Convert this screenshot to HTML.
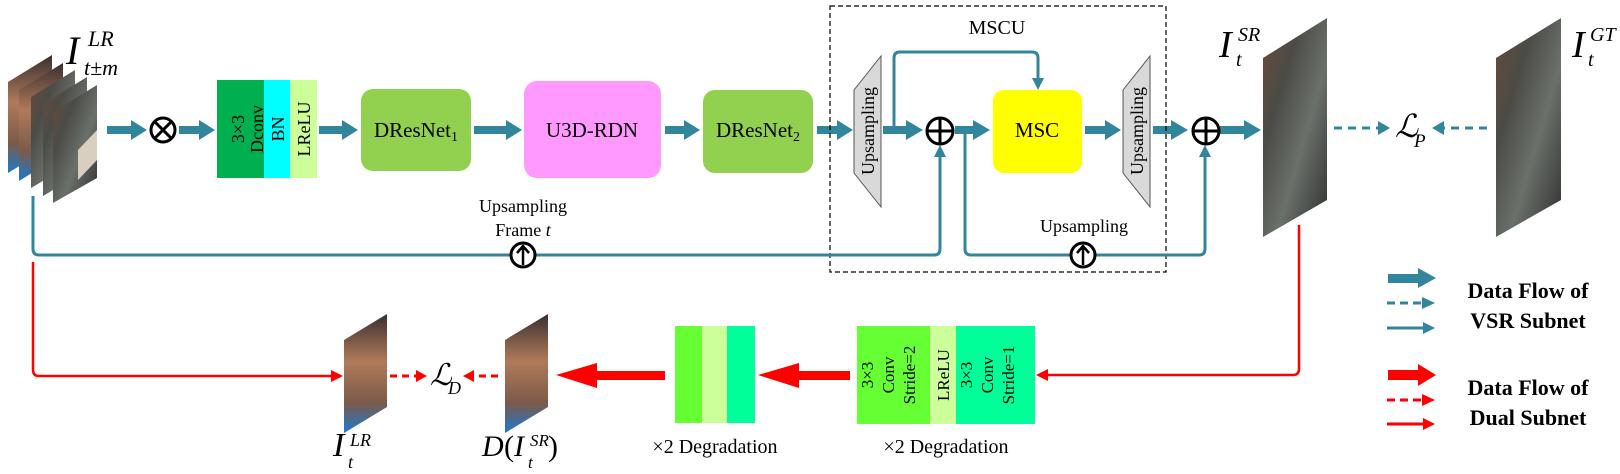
<!DOCTYPE html>
<html><head><meta charset="utf-8"><style>
html,body{margin:0;padding:0;background:#fff}
svg{display:block}
text{font-family:"Liberation Serif",serif}
</style></head><body>
<svg width="1620" height="474" viewBox="0 0 1620 474" xmlns="http://www.w3.org/2000/svg">
<defs>
<linearGradient id="img" x1="0" y1="0" x2="1" y2="1">
<stop offset="0" stop-color="#6b4a3a"/><stop offset="0.3" stop-color="#4b4b46"/><stop offset="0.6" stop-color="#6a706a"/><stop offset="1" stop-color="#2e2e2e"/>
</linearGradient>
<linearGradient id="face" x1="0" y1="0" x2="0" y2="1">
<stop offset="0" stop-color="#3a3030"/><stop offset="0.4" stop-color="#b07a5a"/><stop offset="0.75" stop-color="#7a5a4a"/><stop offset="1" stop-color="#1a7ad0"/>
</linearGradient>
</defs>

<!-- LR stack -->
<g>
<polygon points="8,82 52,55 52,146 8,173" fill="url(#face)"/>
<polygon points="19,90 63,63 63,154 19,181" fill="url(#face)"/>
<polygon points="31,97 75,70 75,162 31,188" fill="url(#img)"/>
<polygon points="43,104 87,77 87,170 43,196" fill="url(#img)"/>
<polygon points="53,112 97,85 97,178 53,203" fill="url(#img)"/>
<polygon points="78,150 97,130 97,160 78,180" fill="#d8cfc0"/>
</g>
<text x="66" y="64" font-size="40" font-style="italic">I</text>
<text x="88" y="46" font-size="22" font-style="italic">LR</text>
<text x="84" y="75" font-size="22" font-style="italic">t±m</text>

<g fill="#31859c">
<rect x="107" y="126" width="26" height="8"/><polygon points="131,120 147,130 131,140"/>
<rect x="179" y="126" width="22" height="8"/><polygon points="199,120 215,130 199,140"/>
<rect x="319" y="126" width="25" height="8"/><polygon points="342,120 358,130 342,140"/>
<rect x="474" y="126" width="34" height="8"/><polygon points="506,120 522,130 506,140"/>
<rect x="665" y="126" width="21" height="8"/><polygon points="684,120 700,130 684,140"/>
<rect x="817" y="126" width="22" height="8"/><polygon points="837,120 853,130 837,140"/>
<rect x="883" y="126" width="25" height="8"/><polygon points="906,120 923,130 906,140"/>
<rect x="955" y="126" width="20" height="8"/><polygon points="973,120 990,130 973,140"/>
<rect x="1085" y="126" width="22" height="8"/><polygon points="1105,120 1121,130 1105,140"/>
<rect x="1153" y="126" width="20" height="8"/><polygon points="1171,120 1188,130 1171,140"/>
<rect x="1220" y="126" width="26" height="8"/><polygon points="1244,120 1261,130 1244,140"/>
</g>

<circle cx="163" cy="130" r="12" fill="#fff" stroke="#000" stroke-width="3"/>
<path d="M155,122 L171,138 M171,122 L155,138" stroke="#000" stroke-width="3"/>

<rect x="217" y="80" width="47" height="98" fill="#00b050"/>
<rect x="264" y="80" width="26" height="98" fill="#00ffff"/>
<rect x="290" y="80" width="27" height="98" fill="#ccff99"/>
<text transform="translate(244,129) rotate(-90)" font-size="18" text-anchor="middle">3×3</text>
<text transform="translate(263,129) rotate(-90)" font-size="18" text-anchor="middle">Dconv</text>
<text transform="translate(284,129) rotate(-90)" font-size="18" text-anchor="middle">BN</text>
<text transform="translate(310,129) rotate(-90)" font-size="18" text-anchor="middle">LReLU</text>

<rect x="361" y="89" width="110" height="82" rx="12" fill="#92d050"/>
<text x="416" y="137" font-size="21" text-anchor="middle">DResNet<tspan font-size="14" dy="4">1</tspan></text>
<rect x="524" y="81" width="137" height="97" rx="13" fill="#ff99ff"/>
<text x="592" y="137" font-size="21" text-anchor="middle">U3D-RDN</text>
<rect x="703" y="90" width="110" height="83" rx="12" fill="#92d050"/>
<text x="758" y="137" font-size="21" text-anchor="middle">DResNet<tspan font-size="14" dy="4">2</tspan></text>

<rect x="830" y="6" width="336" height="266" fill="none" stroke="#000" stroke-width="1.2" stroke-dasharray="5,3"/>
<text x="997" y="34" font-size="20" text-anchor="middle">MSCU</text>

<polygon points="854,90 881,56 881,207 854,173" fill="#d9d9d9" stroke="#555" stroke-width="1"/>
<text transform="translate(874,131) rotate(-90)" font-size="18" text-anchor="middle">Upsampling</text>
<polygon points="1123,90 1150,56 1150,207 1123,173" fill="#d9d9d9" stroke="#555" stroke-width="1"/>
<text transform="translate(1143,131) rotate(-90)" font-size="18" text-anchor="middle">Upsampling</text>

<rect x="993" y="90" width="89" height="83" rx="11" fill="#ffff00"/>
<text x="1037" y="137" font-size="21" text-anchor="middle">MSC</text>

<g fill="none" stroke="#31859c" stroke-width="3">
<path d="M894,130 V58 Q894,52 900,52 H1032 Q1038,52 1038,58 V80"/>
<path d="M965,130 V249 Q965,255 971,255 H1199 Q1205,255 1205,249 V156"/>
<path d="M33,196 V249 Q33,255 39,255 H934 Q940,255 940,249 V156"/>
</g>
<g fill="#31859c">
<polygon points="1032,78 1044,78 1038,90"/>
<polygon points="1199,157 1211,157 1205,145"/>
<polygon points="934,157 946,157 940,145"/>
</g>

<g fill="#fff" stroke="#000" stroke-width="3">
<circle cx="940" cy="131" r="13"/><circle cx="1206" cy="131" r="13"/>
</g>
<path d="M927,131 H953 M940,118 V144 M1193,131 H1219 M1206,118 V144" stroke="#000" stroke-width="3"/>

<g>
<circle cx="523" cy="255" r="12" fill="#fff" stroke="#000" stroke-width="3"/>
<path d="M523,265 V247 M517,253 L523,246 L529,253" stroke="#000" stroke-width="2.5" fill="none"/>
<circle cx="1083" cy="255" r="12" fill="#fff" stroke="#000" stroke-width="3"/>
<path d="M1083,265 V247 M1077,253 L1083,246 L1089,253" stroke="#000" stroke-width="2.5" fill="none"/>
</g>
<text x="523" y="212" font-size="18" text-anchor="middle">Upsampling</text>
<text x="523" y="236" font-size="18" text-anchor="middle">Frame <tspan font-style="italic">t</tspan></text>
<text x="1084" y="232" font-size="18" text-anchor="middle">Upsampling</text>

<polygon points="1263,58 1327,18 1327,200 1263,237" fill="url(#img)"/>
<polygon points="1496,58 1561,18 1561,200 1496,237" fill="url(#img)"/>
<text x="1219" y="57" font-size="38" font-style="italic">I</text>
<text x="1238" y="41" font-size="20" font-style="italic">SR</text>
<text x="1236" y="66" font-size="20" font-style="italic">t</text>
<text x="1572" y="57" font-size="38" font-style="italic">I</text>
<text x="1590" y="41" font-size="20" font-style="italic">GT</text>
<text x="1588" y="66" font-size="20" font-style="italic">t</text>

<path d="M1334,128 H1380" stroke="#31859c" stroke-width="3" stroke-dasharray="8,6"/>
<polygon points="1378,121 1390,128 1378,135" fill="#31859c"/>
<path d="M1487,128 H1442" stroke="#31859c" stroke-width="3" stroke-dasharray="8,6"/>
<polygon points="1444,121 1432,128 1444,135" fill="#31859c"/>
<text x="1395" y="137" font-size="32" font-style="italic">ℒ</text>
<text x="1414" y="147" font-size="19" font-style="italic">P</text>

<g fill="#31859c">
<rect x="1388" y="274" width="32" height="9"/><polygon points="1418,268 1436,278 1418,288"/>
</g>
<path d="M1387,303 H1422" stroke="#31859c" stroke-width="3" stroke-dasharray="8,5"/>
<polygon points="1422,297 1435,303 1422,309" fill="#31859c"/>
<path d="M1387,328 H1423" stroke="#31859c" stroke-width="3"/>
<polygon points="1423,322 1435,328 1423,334" fill="#31859c"/>
<text x="1528" y="298" font-size="22" font-weight="bold" text-anchor="middle">Data Flow of</text>
<text x="1528" y="328" font-size="22" font-weight="bold" text-anchor="middle">VSR Subnet</text>
<g fill="#ff0000">
<rect x="1388" y="370" width="32" height="10"/><polygon points="1418,364 1436,375 1418,386"/>
</g>
<path d="M1387,400 H1422" stroke="#ff0000" stroke-width="3" stroke-dasharray="8,5"/>
<polygon points="1422,394 1435,400 1422,406" fill="#ff0000"/>
<path d="M1387,424 H1423" stroke="#ff0000" stroke-width="3"/>
<polygon points="1423,418 1435,424 1423,430" fill="#ff0000"/>
<text x="1528" y="395" font-size="22" font-weight="bold" text-anchor="middle">Data Flow of</text>
<text x="1528" y="425" font-size="22" font-weight="bold" text-anchor="middle">Dual Subnet</text>

<path d="M1299,225 V369 Q1299,375 1293,375 H1046" fill="none" stroke="#ff0000" stroke-width="2.5"/>
<polygon points="1048,369 1036,375 1048,381" fill="#ff0000"/>
<path d="M33,262 V370 Q33,376 39,376 H332" fill="none" stroke="#ff0000" stroke-width="2.5"/>
<polygon points="331,370 343,376 331,382" fill="#ff0000"/>

<rect x="857" y="326" width="73" height="98" fill="#66ff33"/>
<rect x="930" y="326" width="26" height="98" fill="#ccff99"/>
<rect x="956" y="326" width="79" height="98" fill="#00ff99"/>
<text transform="translate(873,375) rotate(-90)" font-size="17" text-anchor="middle">3×3</text>
<text transform="translate(894,375) rotate(-90)" font-size="17" text-anchor="middle">Conv</text>
<text transform="translate(915,375) rotate(-90)" font-size="17" text-anchor="middle">Stride=2</text>
<text transform="translate(949,375) rotate(-90)" font-size="17" text-anchor="middle">LReLU</text>
<text transform="translate(972,375) rotate(-90)" font-size="17" text-anchor="middle">3×3</text>
<text transform="translate(993,375) rotate(-90)" font-size="17" text-anchor="middle">Conv</text>
<text transform="translate(1014,375) rotate(-90)" font-size="17" text-anchor="middle">Stride=1</text>
<text x="946" y="453" font-size="20" text-anchor="middle">×2 Degradation</text>

<rect x="675" y="326" width="27" height="97" fill="#66ff33"/>
<rect x="702" y="326" width="25" height="97" fill="#ccff99"/>
<rect x="727" y="326" width="28" height="97" fill="#00ff99"/>
<text x="715" y="453" font-size="20" text-anchor="middle">×2 Degradation</text>

<g fill="#ff0000">
<rect x="797" y="371" width="53" height="9"/><polygon points="799,363 758,375 799,388"/>
<rect x="595" y="371" width="70" height="9"/><polygon points="597,363 556,375 597,388"/>
</g>

<polygon points="344,340 387,314 387,407 344,433" fill="url(#face)"/>
<polygon points="505,340 548,314 548,407 505,433" fill="url(#face)"/>
<path d="M390,376 H418" stroke="#ff0000" stroke-width="3" stroke-dasharray="7,5"/>
<polygon points="416,370 427,376 416,382" fill="#ff0000"/>
<path d="M498,376 H472" stroke="#ff0000" stroke-width="3" stroke-dasharray="7,5"/>
<polygon points="474,370 463,376 474,382" fill="#ff0000"/>
<text x="430" y="385" font-size="30" font-style="italic">ℒ</text>
<text x="448" y="394" font-size="18" font-style="italic">D</text>

<text x="333" y="456" font-size="34" font-style="italic">I</text>
<text x="350" y="446" font-size="18" font-style="italic">LR</text>
<text x="348" y="468" font-size="18" font-style="italic">t</text>
<text x="482" y="456" font-size="30" font-style="italic">D</text>
<text x="504" y="456" font-size="30">(</text>
<text x="514" y="456" font-size="30" font-style="italic">I</text>
<text x="530" y="446" font-size="17" font-style="italic">SR</text>
<text x="528" y="468" font-size="17" font-style="italic">t</text>
<text x="548" y="456" font-size="30">)</text>
</svg>
</body></html>
